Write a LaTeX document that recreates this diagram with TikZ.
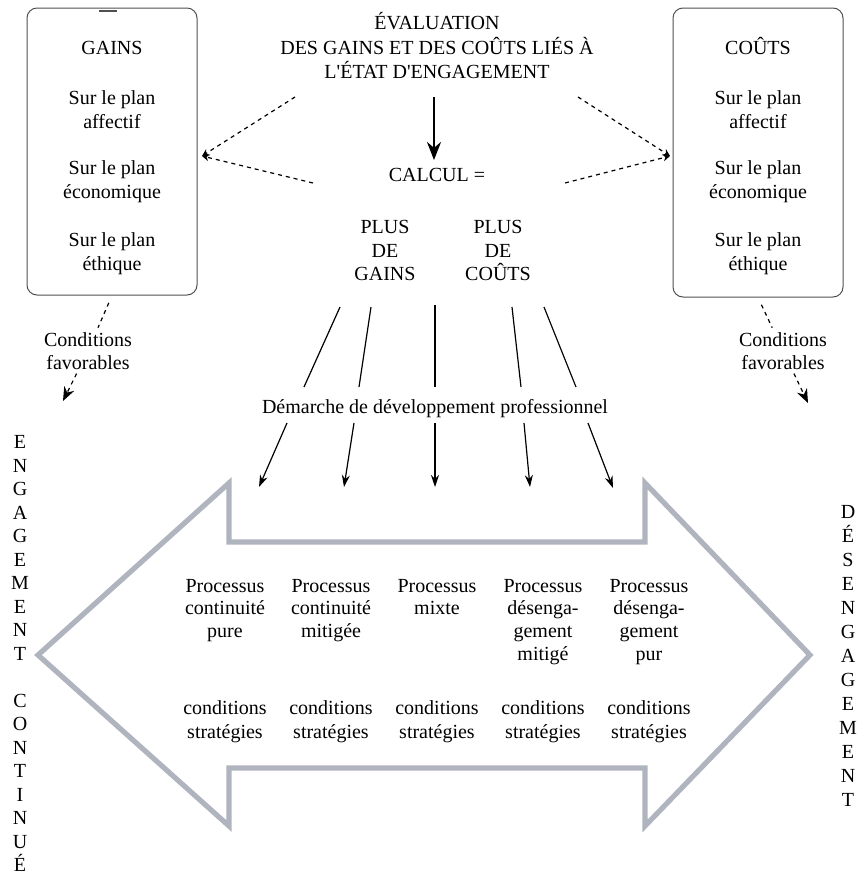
\documentclass[tikz,border=0pt]{standalone}
\usepackage{fontspec}
\setmainfont{Liberation Serif}
\usetikzlibrary{arrows.meta}
\definecolor{arrowgray}{RGB}{176,180,190}
\definecolor{boxline}{RGB}{80,80,80}
\begin{document}
\begin{tikzpicture}[x=0.5pt,y=-0.5pt,
  txt/.style={font=\fontsize{10}{12}\selectfont, inner sep=0pt, align=center, anchor=base},
  tight/.style={font=\fontsize{10}{11.4}\selectfont},
  vert/.style={font=\fontsize{10}{11.75}\selectfont},
  sidebox/.style={draw=boxline, line width=0.5pt, rounded corners=5pt, minimum width=85pt, inner sep=0pt},
  dline/.style={line width=0.6pt, dash pattern=on 2pt off 2pt},
  smallhead/.style={-{Stealth[length=3.5pt,width=3.5pt]}},
  condhead/.style={-{Stealth[length=7pt,width=5.5pt]}},
  thin/.style={line width=0.6pt},
  thinarrow/.style={line width=0.6pt, -{Stealth[length=6pt,width=4pt]}},
  bold/.style={line width=1.2pt, -{Stealth[length=9pt,width=7pt]}},
  bigarrow/.style={draw=arrowgray, line width=2.6pt, line join=miter}
]
\useasboundingbox (0,0) rectangle (859,884);

% side boxes
\node[sidebox, minimum height=143.5pt] (gains) at (112,151.5) {};
\node[sidebox, minimum height=144.5pt] (couts) at (758,152.5) {};
\draw[line width=1pt, boxline] (99,11) -- (117,11);

% box texts (anchor = baseline of the last line)
\node[txt] (gt) at (112,54.5) {GAINS};
\node[txt] (g1) at (112,128) {Sur le plan\\affectif};
\node[txt] (g2) at (112,198) {Sur le plan\\économique};
\node[txt] (g3) at (112,270) {Sur le plan\\éthique};
\node[txt] (ct) at (758,54.5) {COÛTS};
\node[txt] (c1) at (758,128) {Sur le plan\\affectif};
\node[txt] (c2) at (758,198) {Sur le plan\\économique};
\node[txt] (c3) at (758,270) {Sur le plan\\éthique};

% title and calcul
\node[txt, font=\fontsize{10}{12.25}\selectfont] (title) at (437,78.5) {ÉVALUATION\\DES GAINS ET DES COÛTS LIÉS À\\L\textquotesingle ÉTAT D\textquotesingle ENGAGEMENT};
\node[txt] (calcul) at (437,181.5) {CALCUL =};
\node[txt, font=\fontsize{10}{11.75}\selectfont] (pg) at (385,280.5) {PLUS\\DE\\GAINS};
\node[txt, font=\fontsize{10}{11.75}\selectfont] (pc) at (498,280.5) {PLUS\\DE\\COÛTS};

\coordinate (ta) at (434,97);
\coordinate (ca) at (434,160);
\draw[bold] (ta) -- (ca);

% dashed V connectors
\coordinate (dl1) at (295,97);
\coordinate (dl2) at (313,183);
\coordinate (gE) at (202,156);
\coordinate (dr1) at (578,97);
\coordinate (dr2) at (565,183);
\coordinate (cW) at (670,156);
\draw[dline, smallhead] (dl1) -- (gE);
\draw[dline, smallhead] (dl2) -- (gE);
\draw[dline, smallhead] (dr1) -- (cW);
\draw[dline, smallhead] (dr2) -- (cW);

% conditions favorables
\node[txt, font=\fontsize{10}{11.5}\selectfont, inner sep=2pt] (cfl) at (88,369) {Conditions\\favorables};
\node[txt, font=\fontsize{10}{11.5}\selectfont, inner sep=2pt] (cfr) at (783,369) {Conditions\\favorables};
\coordinate (tipl) at (63,401);
\coordinate (tipr) at (808,403);
\draw[dline, shorten <=4pt] (gains.south) -- (cfl);
\draw[dline, condhead] (cfl) -- (tipl);
\draw[dline, shorten <=4pt] (couts.south) -- (cfr);
\draw[dline, condhead] (cfr) -- (tipr);

% demarche
\node[txt] (dem) at (435,413) {Démarche de développement professionnel};
\coordinate (u1) at (340,307); \coordinate (m1) at (304,387);
\coordinate (u2) at (371,307); \coordinate (m2) at (359,387);
\coordinate (u3) at (435,305); \coordinate (m3) at (435,387);
\coordinate (u4) at (512,307); \coordinate (m4) at (521,387);
\coordinate (u5) at (544,307); \coordinate (m5) at (576,387);
\draw[thin] (u1) -- (m1);
\draw[thin] (u2) -- (m2);
\draw[thin] (u3) -- (m3);
\draw[thin] (u4) -- (m4);
\draw[thin] (u5) -- (m5);
\coordinate (d1) at (287,423); \coordinate (e1) at (259,487);
\coordinate (d2) at (354,423); \coordinate (e2) at (344,487);
\coordinate (d3) at (435,423); \coordinate (e3) at (435,487);
\coordinate (d4) at (524,423); \coordinate (e4) at (530,487);
\coordinate (d5) at (588,423); \coordinate (e5) at (613,488);
\draw[thinarrow] (d1) -- (e1);
\draw[thinarrow] (d2) -- (e2);
\draw[thinarrow] (d3) -- (e3);
\draw[thinarrow] (d4) -- (e4);
\draw[thinarrow] (d5) -- (e5);

% double arrow
\draw[bigarrow] (38,655) -- (229,483) -- (229,542) -- (645,542) -- (645,483) -- (810,655)
  -- (645,826) -- (645,768) -- (229,768) -- (229,826) -- cycle;

% processes
\node[txt, tight] (p1) at (225,637.6) {Processus\\continuité\\pure};
\node[txt, tight] (p2) at (331,637.6) {Processus\\continuité\\mitigée};
\node[txt, tight] (p3) at (437,614.8) {Processus\\mixte};
\node[txt, tight] (p4) at (543,660.4) {Processus\\désenga-\\gement\\mitigé};
\node[txt, tight] (p5) at (649,660.4) {Processus\\désenga-\\gement\\pur};
\node[txt] (s1) at (225,738) {conditions\\stratégies};
\node[txt] (s2) at (331,738) {conditions\\stratégies};
\node[txt] (s3) at (437,738) {conditions\\stratégies};
\node[txt] (s4) at (543,738) {conditions\\stratégies};
\node[txt] (s5) at (649,738) {conditions\\stratégies};

% vertical labels
\node[txt, vert] (vl) at (20,871.5) {E\\N\\G\\A\\G\\E\\M\\E\\N\\T\\[11.75pt]C\\O\\N\\T\\I\\N\\U\\É};
\node[txt] (vr) at (848,806.5) {D\\É\\S\\E\\N\\G\\A\\G\\E\\M\\E\\N\\T};
\end{tikzpicture}
\end{document}
